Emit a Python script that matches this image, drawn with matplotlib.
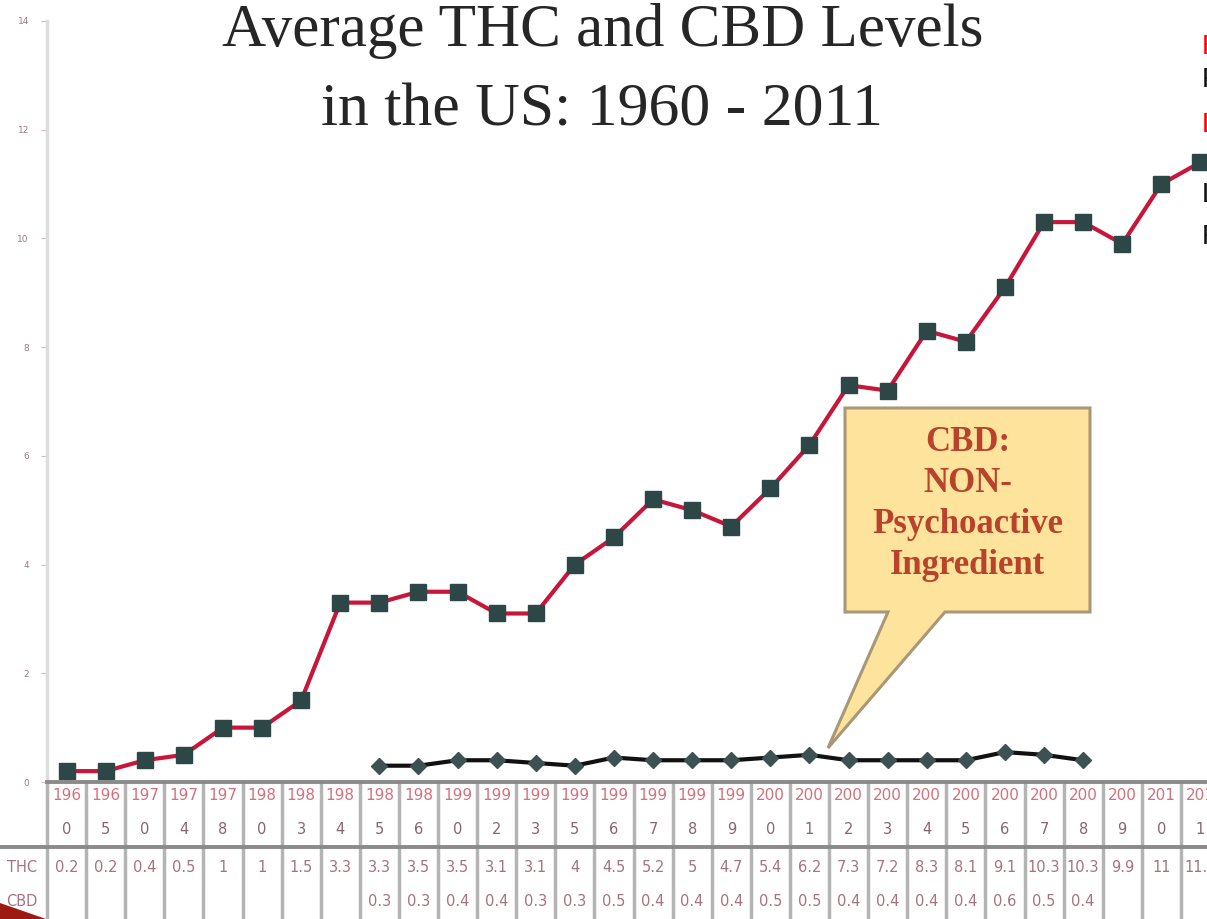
import matplotlib
matplotlib.use("Agg")
import matplotlib.pyplot as plt
from matplotlib.patches import Polygon
from matplotlib.transforms import Bbox

years = [1960, 1965, 1970, 1974, 1978, 1980, 1983, 1984, 1985, 1986,
         1990, 1992, 1993, 1995, 1996, 1997, 1998, 1999, 2000, 2001,
         2002, 2003, 2004, 2005, 2006, 2007, 2008, 2009, 2010, 2011]
thc = [0.2, 0.2, 0.4, 0.5, 1, 1, 1.5, 3.3, 3.3, 3.5,
       3.5, 3.1, 3.1, 4, 4.5, 5.2, 5, 4.7, 5.4, 6.2,
       7.3, 7.2, 8.3, 8.1, 9.1, 10.3, 10.3, 9.9, 11, 11.4]
cbd_years = years[8:27]
cbd = [0.3, 0.3, 0.4, 0.4, 0.35, 0.3, 0.45, 0.4, 0.4, 0.4,
       0.45, 0.5, 0.4, 0.4, 0.4, 0.4, 0.55, 0.5, 0.4]
yticks = [0, 2, 4, 6, 8, 10, 12, 14]

W, H = 1207, 919
fig = plt.figure(figsize=(W / 100, H / 100), dpi=100)
fig.patch.set_facecolor("white")

# pixel helpers (origin top-left like the picture)
ax_l, ax_b, ax_t = 47, 782, 21
col_w = 39.1
ax = fig.add_axes([ax_l / W, 1 - ax_b / H, len(years) * col_w / W, (ax_b - ax_t) / H])

xs = list(range(len(years)))
cx = [years.index(y) for y in cbd_years]

ax.plot(xs, thc, color="#c8163a", lw=3, marker="s", ms=12,
        mfc="#2d4747", mec="#2d4747", zorder=3)
ax.plot(cx, cbd, color="#111111", lw=3, marker="D", ms=8,
        mfc="#3c5252", mec="#3c5252", zorder=3)

ax.set_xlim(-0.5, len(years) - 0.5)
ax.set_ylim(0, 14)
ax.set_yticks(yticks)
ax.set_xticks([])
for s in ["top", "right", "bottom"]:
    ax.spines[s].set_visible(False)
ax.spines["left"].set_color("#dddddd")
ax.spines["left"].set_linewidth(2.5)
ax.tick_params(axis="y", length=4, color="#cdb9c2", labelsize=6.5,
               labelcolor="#a07886", pad=9)

# callout
box_x0, box_x1, box_y0, box_y1 = 845, 1090, 408, 612
pts = [(box_x0, box_y0), (box_x1, box_y0), (box_x1, box_y1), (945, box_y1),
       (828, 748), (888, box_y1), (box_x0, box_y1)]
fig.patches.append(Polygon([(x / W, 1 - y / H) for x, y in pts], closed=True,
                           transform=fig.transFigure, facecolor="#fde39c",
                           edgecolor="#a89878", lw=2.2, zorder=5))
fig.text((box_x0 + box_x1) / 2 / W, 1 - 504 / H,
         "CBD:\nNON-\nPsychoactive\nIngredient", ha="center", va="center",
         fontsize=25, fontweight="bold", family="Liberation Serif",
         color="#b8422a", linespacing=1.32, zorder=6)

# title
fig.text(0.499, 1 - 46 / H, "Average THC and CBD Levels", ha="center",
         va="baseline", fontsize=44, family="Liberation Serif", color="#262626")
fig.text(0.499, 1 - 126 / H, "in the US: 1960 - 2011", ha="center",
         va="baseline", fontsize=44.5, family="Liberation Serif", color="#262626")

# data table under the plot
def px(x, y):
    return (x / W, 1 - y / H)

def cell_text(s, xc, yc, x0, x1, color, size):
    t = fig.text(*px(xc, yc), s, ha="center", va="center", fontsize=size,
                 color=color, family="DejaVu Sans")
    t.set_clip_box(Bbox.from_extents(x0, 0, x1, H))
    t.set_clip_on(True)

for i, y in enumerate(years):
    x0 = ax_l + i * col_w
    x1 = x0 + col_w
    xc = (x0 + x1) / 2
    cell_text(str(y)[:3], xc, 796, x0 + 1, x1 - 1, "#d4707c", 11)
    cell_text(str(y)[3], xc, 830, x0 + 1, x1 - 1, "#8a6470", 10.5)
    cell_text("%g" % thc[i], xc, 867, x0 + 1, x1 - 1, "#a8727e", 10.5)
for y, v in zip(cbd_years, cbd):
    i = years.index(y)
    x0 = ax_l + i * col_w
    x1 = x0 + col_w
    cell_text("%.1f" % v, (x0 + x1) / 2, 902, x0 + 1, x1 - 1, "#a8727e", 10.5)

fig.text(*px(22, 867), "THC", ha="center", va="center", fontsize=10.5,
         color="#a8727e")
fig.text(*px(22, 902), "CBD", ha="center", va="center", fontsize=10.5,
         color="#a8727e")

for k in range(len(years) + 1):
    xx = ax_l + k * col_w
    fig.lines.append(plt.Line2D([xx / W] * 2, [1 - 782 / H, 0],
                                transform=fig.transFigure, color="#b4b4b4", lw=2.5))
fig.lines.append(plt.Line2D([ax_l / W, 1], [1 - 782 / H] * 2,
                            transform=fig.transFigure, color="#8a8a8a", lw=2.8))
fig.lines.append(plt.Line2D([0, 1], [1 - 847 / H] * 2,
                            transform=fig.transFigure, color="#8a8a8a", lw=2.8))

# slide decorations cut at the edges
fig.patches.append(Polygon([px(0, 903), px(46, 919), px(0, 919)], closed=True,
                           transform=fig.transFigure, facecolor="#9c1a12",
                           edgecolor="none"))
side = [("High", 47, "#ff0000"), ("Potency", 80, "#111111"),
        ("Low", 125, "#ff0000"), ("Levels", 195, "#111111"),
        ("Ratio", 237, "#111111")]
for s, yy, c in side:
    fig.text(*px(1202, yy), s, ha="left", va="center", fontsize=20,
             color=c, family="Liberation Sans")

fig.savefig("out.png", dpi=100)
